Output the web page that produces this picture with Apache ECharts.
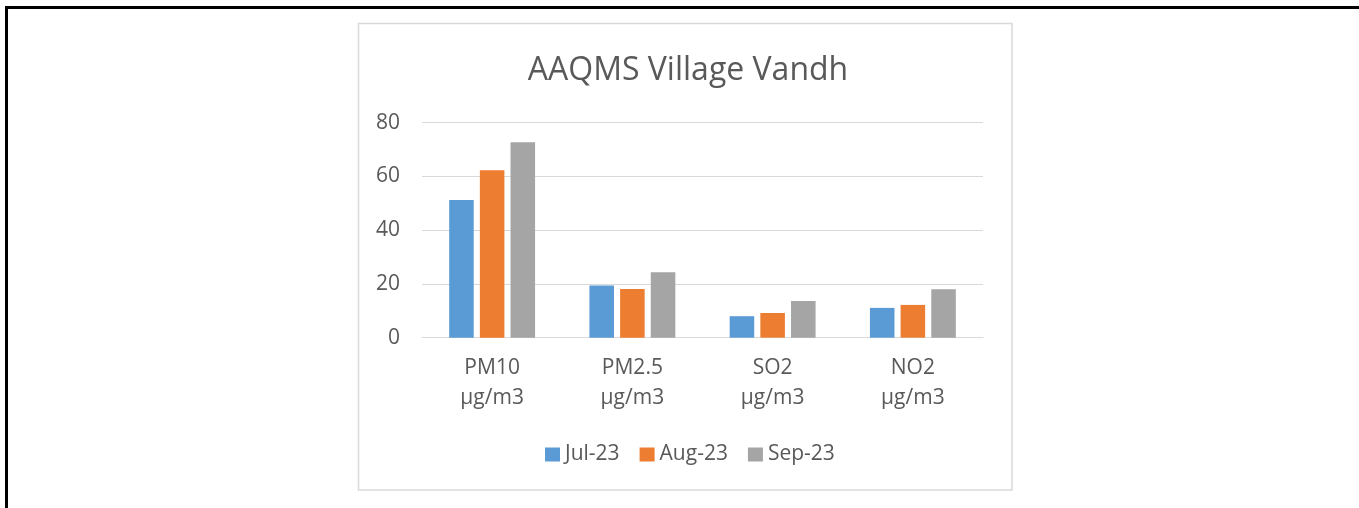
<!DOCTYPE html>
<html>
<head>
<meta charset="utf-8">
<script src="https://cdn.jsdelivr.net/npm/echarts@6/dist/echarts.min.js"></script>
<style>
html,body{margin:0;padding:0;background:#fff;}
#c{width:1359px;height:508px;}
</style>
</head>
<body>
<div id="c"></div>
<script>
const categories = ['PM10\nμg/m3', 'PM2.5\nμg/m3', 'SO2\nμg/m3', 'NO2\nμg/m3'];
const seriesNames = ['Jul-23', 'Aug-23', 'Sep-23'];
const jul23 = [51.2, 19.4, 8.0, 11.1];
const aug23 = [62.3, 18.1, 9.2, 12.2];
const sep23 = [72.7, 24.4, 13.7, 18.0];
const yTicks = [0, 20, 40, 60, 80];

const colors = ['#5B9BD5', '#ED7D31', '#A5A5A5'];
const txt = '#595959';
const font = 'Open Sans';

const chart = echarts.init(document.getElementById('c'), null, {renderer: 'canvas'});
const values = [jul23, aug23, sep23];
chart.setOption({
  animation: false,
  backgroundColor: '#fff',
  color: colors,
  title: {
    text: 'AAQMS Village Vandh',
    left: 683,
    textAlign: 'center',
    top: 50,
    textStyle: {fontFamily: font, fontSize: 32, fontWeight: 'normal', color: txt}
  },
  legend: {
    data: seriesNames,
    left: 540,
    top: 439,
    itemWidth: 15,
    itemHeight: 14,
    itemGap: 20,
    icon: 'rect',
    textStyle: {fontFamily: font, fontSize: 21, color: txt}
  },
  grid: {left: 422, right: 376, top: 122.7, bottom: 170.3, containLabel: false},
  xAxis: {
    type: 'category',
    data: categories,
    axisLine: {show: true, lineStyle: {color: '#D9D9D9', width: 1}},
    axisTick: {show: false},
    axisLabel: {fontFamily: font, fontSize: 21, color: txt, lineHeight: 30, margin: 15, interval: 0}
  },
  yAxis: {
    type: 'value',
    min: yTicks[0],
    max: yTicks[yTicks.length - 1],
    interval: 20,
    axisLine: {show: false},
    axisTick: {show: false},
    splitLine: {lineStyle: {color: '#D9D9D9', width: 1}},
    axisLabel: {fontFamily: font, fontSize: 21, color: txt, margin: 22}
  },
  series: seriesNames.map((n, i) => ({
    name: n,
    type: 'bar',
    data: values[i],
    barWidth: '17.5%',
    barGap: '25%',
    itemStyle: {color: colors[i]}
  })),
  graphic: [
    {type: 'rect', shape: {x: 358.5, y: 23.5, width: 653.5, height: 466.5}, style: {fill: 'none', stroke: '#D9D9D9', lineWidth: 1.5}, z: -1},
    {type: 'rect', shape: {x: 5, y: 6, width: 1354, height: 3}, style: {fill: '#000'}},
    {type: 'rect', shape: {x: 5, y: 6, width: 3, height: 502}, style: {fill: '#000'}}
  ]
});
</script>
</body>
</html>
